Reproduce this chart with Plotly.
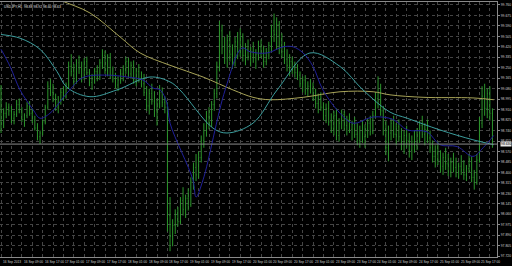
import plotly.graph_objects as go

# ---- OHLC data (USDJPY H1) ----
opens = [99.07,98.80,98.88,98.93,98.90,98.84,98.87,98.95,98.91,98.83,98.86,98.94,98.88,98.82,
         98.76,98.69,98.72,
         98.81,98.93,99.10,99.05,99.00,98.93,98.99,99.05,99.02,
         99.11,99.26,99.22,99.14,99.29,99.24,99.17,99.30,
         99.21,99.13,99.16,99.22,
         99.18,99.29,99.35,99.23,99.33,99.19,
         99.16,99.11,99.15,99.20,
         99.24,99.30,99.20,99.27,99.15,99.22,99.16,
         99.12,99.05,98.94,99.04,
         98.98,98.90,98.96,99.05,98.97,
         98.93,98.05,
         97.88,97.97,98.06,98.00,98.17,98.10,98.19,
         98.14,98.32,98.44,98.38,
         98.52,98.66,98.74,98.85,98.80,98.95,
         99.04,99.26,99.55,
         99.42,99.33,99.47,99.36,99.29,99.46,99.38,99.50,99.35,99.40,99.34,
         99.38,99.33,99.36,99.42,99.37,99.30,99.38,
         99.43,99.55,99.52,99.60,
         99.42,99.38,99.32,99.27,99.30,99.24,99.21,
         99.19,99.12,99.15,99.07,99.10,
         99.08,99.02,98.96,99.00,98.93,98.86,98.92,98.81,98.76,98.86,98.70,
         98.80,98.87,98.78,98.83,98.75,98.79,98.71,98.66,98.74,98.69,98.75,98.80,98.73,
         98.86,99.00,98.98,
         98.90,98.74,98.60,98.72,98.80,98.71,98.77,98.69,98.63,98.70,98.66,98.58,98.65,98.62,98.72,98.78,98.71,98.75,98.68,
         98.60,98.53,98.57,98.50,98.45,98.52,98.47,98.41,98.48,
         98.44,98.40,98.45,98.42,98.38,98.43,98.50,98.36,98.32,
         98.50,98.80,99.02,98.92,99.04,98.88]
highs = [99.11,98.92,98.97,98.96,98.94,98.90,98.99,99.00,98.93,98.88,98.97,98.98,98.92,98.86,
         98.80,98.74,98.83,
         98.95,99.14,99.16,99.12,99.04,99.02,99.08,99.10,99.13,
         99.30,99.36,99.28,99.32,99.35,99.30,99.33,99.34,
         99.24,99.20,99.25,99.27,
         99.32,99.40,99.39,99.36,99.37,99.26,
         99.21,99.18,99.24,99.27,
         99.34,99.33,99.30,99.31,99.25,99.28,99.22,
         99.20,99.10,99.08,99.12,
         99.06,99.00,99.11,99.09,99.02,
         98.97,98.20,
         98.02,98.10,98.12,98.20,98.28,98.22,98.27,
         98.36,98.48,98.55,98.57,
         98.70,98.80,98.90,98.93,98.98,99.08,
         99.30,99.63,99.60,
         99.50,99.52,99.55,99.44,99.50,99.54,99.57,99.53,99.45,99.48,99.42,
         99.46,99.40,99.47,99.48,99.43,99.41,99.46,
         99.60,99.69,99.66,99.63,
         99.53,99.46,99.40,99.36,99.34,99.30,99.28,
         99.22,99.18,99.19,99.14,99.16,
         99.13,99.08,99.04,99.05,98.97,98.96,98.98,98.88,98.90,98.92,98.84,
         98.91,98.90,98.86,98.88,98.82,98.85,98.80,98.78,98.82,98.79,98.84,98.86,98.90,
         99.05,99.18,99.12,
         98.94,98.82,98.78,98.84,98.86,98.80,98.83,98.76,98.74,98.78,98.72,98.70,98.74,98.76,98.82,98.86,98.80,98.83,98.74,
         98.66,98.62,98.65,98.58,98.56,98.60,98.55,98.52,98.56,
         98.52,98.48,98.54,98.50,98.46,98.55,98.53,98.42,98.55,
         98.85,99.10,99.12,99.08,99.10,98.92]
lows = [98.72,98.76,98.84,98.86,98.80,98.79,98.85,98.88,98.81,98.77,98.84,98.86,98.80,98.74,
        98.66,98.63,98.70,
        98.79,98.91,99.02,98.97,98.90,98.88,98.95,98.98,99.00,
        99.08,99.18,99.10,99.12,99.20,99.13,99.15,99.19,
        99.10,99.07,99.12,99.14,
        99.15,99.24,99.20,99.18,99.16,99.13,
        99.08,99.06,99.12,99.14,
        99.20,99.17,99.16,99.12,99.10,99.13,99.09,
        99.02,98.90,98.87,98.95,
        98.85,98.78,98.92,98.93,98.88,
        97.92,97.76,
        97.80,97.90,97.96,97.98,98.05,98.03,98.09,
        98.12,98.26,98.33,98.35,
        98.48,98.60,98.69,98.75,98.77,98.90,
        99.00,99.22,99.36,
        99.28,99.25,99.30,99.24,99.26,99.32,99.34,99.30,99.27,99.31,99.26,
        99.29,99.24,99.31,99.33,99.25,99.27,99.32,
        99.38,99.46,99.40,99.36,
        99.33,99.28,99.22,99.18,99.20,99.17,99.15,
        99.09,99.05,99.03,99.02,99.04,
        98.98,98.92,98.88,98.90,98.82,98.80,98.78,98.72,98.70,98.66,98.65,
        98.75,98.74,98.70,98.72,98.66,98.68,98.62,98.60,98.64,98.60,98.68,98.70,98.71,
        98.84,98.92,98.86,
        98.70,98.54,98.49,98.66,98.68,98.62,98.65,98.58,98.55,98.60,98.52,98.50,98.56,98.58,98.64,98.68,98.62,98.64,98.56,
        98.48,98.44,98.46,98.40,98.38,98.42,98.37,98.36,98.40,
        98.36,98.35,98.38,98.34,98.33,98.40,98.32,98.26,98.30,
        98.48,98.76,98.86,98.84,98.82,98.60]
closes = [98.80,98.88,98.93,98.90,98.84,98.87,98.95,98.91,98.83,98.86,98.94,98.88,98.82,98.76,
          98.69,98.72,98.81,
          98.93,99.10,99.05,99.00,98.93,98.99,99.05,99.02,99.11,
          99.26,99.22,99.14,99.29,99.24,99.17,99.30,99.21,
          99.13,99.16,99.22,99.18,
          99.29,99.35,99.23,99.33,99.19,99.16,
          99.11,99.15,99.20,99.24,
          99.30,99.20,99.27,99.15,99.22,99.16,99.12,
          99.05,98.94,99.04,98.98,
          98.90,98.96,99.05,98.97,98.93,
          98.05,97.88,
          97.97,98.06,98.00,98.17,98.10,98.19,98.14,
          98.32,98.44,98.38,98.52,
          98.66,98.74,98.85,98.80,98.95,99.04,
          99.26,99.55,99.42,
          99.33,99.47,99.36,99.29,99.46,99.38,99.50,99.35,99.40,99.34,99.38,
          99.33,99.36,99.42,99.37,99.30,99.38,99.43,
          99.55,99.52,99.60,99.42,
          99.38,99.32,99.27,99.30,99.24,99.21,99.19,
          99.12,99.15,99.07,99.10,99.08,
          99.02,98.96,99.00,98.93,98.86,98.92,98.81,98.76,98.86,98.70,98.80,
          98.87,98.78,98.83,98.75,98.79,98.71,98.66,98.74,98.69,98.75,98.80,98.73,98.86,
          99.00,98.98,98.90,
          98.74,98.60,98.72,98.80,98.71,98.77,98.69,98.63,98.70,98.66,98.58,98.65,98.62,98.72,98.78,98.71,98.75,98.68,98.60,
          98.53,98.57,98.50,98.45,98.52,98.47,98.41,98.48,98.44,
          98.40,98.45,98.42,98.38,98.43,98.50,98.36,98.32,98.50,
          98.80,99.02,98.92,99.04,98.88,98.63]

# ---- moving averages (bar index, price) ----
ma_slow_idx = [0, 11.1, 22.7, 34.2, 45.8, 53.5, 65, 77.7, 89.2, 96.9, 103.5, 116.2, 130.4, 143.1, 149.6, 162.3, 181.5, 189.5]
ma_slow_val = [100.11, 99.92, 99.80, 99.695, 99.50, 99.37, 99.27, 99.175, 99.07, 99.01, 98.99, 99.01, 99.055, 99.055, 99.03, 99.01, 99.005, 98.99]

ma_mid_idx = [0, 7.3, 15.0, 21.5, 25.4, 34.2, 44.6, 57.3, 65, 68.8, 81.5, 86.9, 96.9, 106.2, 118.8, 130.4, 139.2, 149.6, 156.2, 168.8, 181.5, 189.5]
ma_mid_val = [99.52, 99.49, 99.40, 99.22, 99.09, 99.015, 99.07, 99.175, 99.135, 99.07, 98.76, 98.72, 98.80, 99.07, 99.37, 99.26, 99.07, 98.89, 98.84, 98.745, 98.665, 98.625]

ma_fast_idx = [0, 3.5, 7.3, 12.3, 15.0, 18.8, 25.4, 31.5, 40.8, 48.5, 54.6, 58.5, 61.2, 63.8, 65, 73.8, 75.0, 77.7, 86.2, 92.7, 95.8, 102.3, 108.5, 112.3, 116.2, 120.0, 123.8, 130.4, 135.4, 143.1, 150.8, 156.2, 163.8, 168.8, 175.4, 181.5, 185.4, 189.5]
ma_fast_val = [99.40, 99.26, 99.07, 98.91, 98.84, 98.88, 99.045, 99.17, 99.19, 99.175, 99.15, 99.085, 99.07, 98.965, 98.80, 98.34, 98.20, 98.34, 99.07, 99.41, 99.38, 99.37, 99.42, 99.42, 99.37, 99.26, 99.07, 98.88, 98.80, 98.85, 98.83, 98.745, 98.73, 98.625, 98.61, 98.53, 98.60, 98.70]

# ---- axis labels ----
time_labels = ["16 Sep 2013", "16 Sep 09:00", "16 Sep 17:00", "17 Sep 01:00", "17 Sep 09:00", "17 Sep 17:00",
               "18 Sep 01:00", "18 Sep 09:00", "18 Sep 17:00", "19 Sep 01:00", "19 Sep 09:00", "19 Sep 17:00",
               "20 Sep 01:00", "20 Sep 09:00", "20 Sep 17:00", "23 Sep 01:00", "23 Sep 09:00", "23 Sep 17:00",
               "24 Sep 01:00", "24 Sep 09:00", "24 Sep 17:00", "25 Sep 01:00", "25 Sep 09:00", "25 Sep 17:00"]
price_ticks = [97.720, 97.805, 97.890, 97.975, 98.060, 98.145, 98.230, 98.315, 98.400, 98.485, 98.570,
               98.655, 98.740, 98.825, 98.910, 98.995, 99.080, 99.165, 99.250, 99.335, 99.420, 99.505,
               99.590, 99.675, 99.760]

idx = list(range(len(closes)))
label_pos = [8 * k for k in range(len(time_labels))]

fig = go.Figure()
fig.add_trace(go.Ohlc(x=idx, open=opens, high=highs, low=lows, close=closes,
                      increasing=dict(line=dict(color="#2c962c", width=1)),
                      decreasing=dict(line=dict(color="#2c962c", width=1)),
                      tickwidth=0.22, hoverinfo="skip", showlegend=False))
fig.add_trace(go.Scatter(x=ma_slow_idx, y=ma_slow_val, mode="lines", line=dict(color="#a8a458", width=1, shape="spline"),
                         hoverinfo="skip", showlegend=False))
fig.add_trace(go.Scatter(x=ma_mid_idx, y=ma_mid_val, mode="lines", line=dict(color="#3c9e9e", width=1, shape="spline"),
                         hoverinfo="skip", showlegend=False))
fig.add_trace(go.Scatter(x=ma_fast_idx, y=ma_fast_val, mode="lines", line=dict(color="#20209a", width=1, shape="spline"),
                         hoverinfo="skip", showlegend=False))

last = closes[-1]
fig.add_shape(type="line", xref="paper", x0=0, x1=1, yref="y", y0=last, y1=last,
              line=dict(color="#8a8a8a", width=1))

annotations = []
for p, t in zip(label_pos, time_labels):
    annotations.append(dict(x=p, y=0, xref="x", yref="paper", text=t, showarrow=False,
                            xanchor="left", yanchor="top", yshift=-1,
                            font=dict(size=3.2, color="#d0d0d0", family="Arial")))
annotations.append(dict(x=0.004, y=1, xref="paper", yref="paper",
                        text="USDJPY,H1  %.2f %.2f %.2f %.2f" % (opens[-1], highs[-1], lows[-1], closes[-1]),
                        showarrow=False, xanchor="left", yanchor="top", yshift=-1,
                        font=dict(size=3.4, color="#e0e0e0", family="Arial")))
annotations.append(dict(x=1.0, y=last, xref="paper", yref="y", text="%.3f" % last, showarrow=False,
                        xanchor="left", yanchor="middle", xshift=3, bgcolor="#e8e8e8",
                        borderpad=0, font=dict(size=3.4, color="#000000", family="Arial")))

fig.update_layout(
    width=512, height=266,
    margin=dict(l=0, r=15, t=2, b=9),
    paper_bgcolor="#000000", plot_bgcolor="#000000",
    annotations=annotations,
    xaxis=dict(range=[-0.4, 190.75], rangeslider=dict(visible=False),
               tickmode="linear", tick0=0, dtick=4, showticklabels=False, ticks="",
               showgrid=True, gridcolor="#454545", griddash="dot", gridwidth=1,
               zeroline=False, showline=True, linecolor="#8a8a8a", mirror=True),
    yaxis=dict(range=[97.713, 99.784], side="right", tickmode="array", tickvals=price_ticks,
               ticktext=["%.3f" % v for v in price_ticks],
               tickfont=dict(size=3.4, color="#d0d0d0", family="Arial"),
               ticks="outside", ticklen=2, tickcolor="#8a8a8a",
               showgrid=True, gridcolor="#454545", griddash="dot", gridwidth=1,
               zeroline=False, showline=True, linecolor="#8a8a8a", mirror=True),
)

fig.write_html("out.html")
